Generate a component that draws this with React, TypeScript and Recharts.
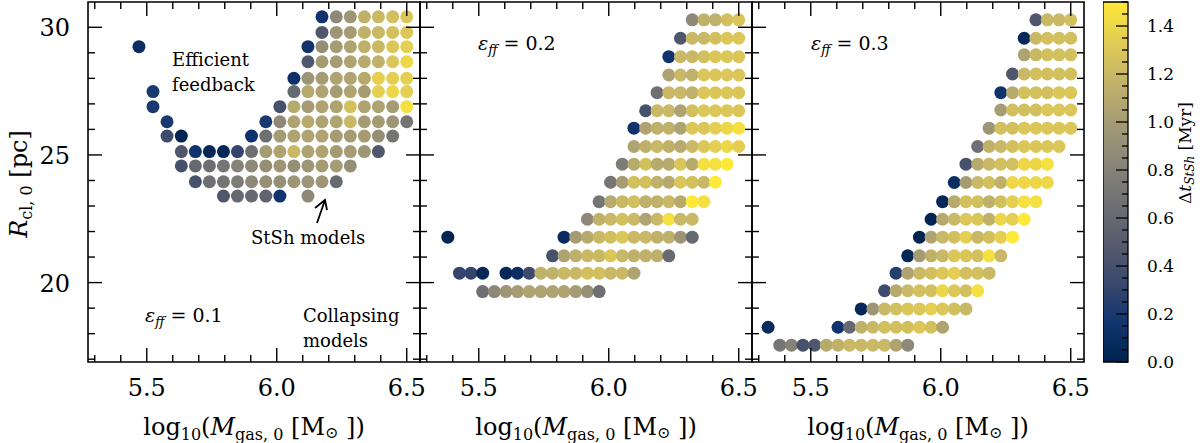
import React from "react";
import { ScatterChart, Scatter, XAxis, YAxis, ReferenceArea, BarChart, Bar } from "recharts";

const FONT = "'DejaVu Serif', serif";

// log10(M_gas,0) grid used in the eps_ff = 0.1 panel
const massGrid1 = [
  5.470, 5.524, 5.578, 5.633, 5.687, 5.741, 5.795, 5.849, 5.903, 5.958,
  6.012, 6.066, 6.120, 6.174, 6.229, 6.283, 6.337, 6.391, 6.446, 6.500,
];
// grid for the eps_ff = 0.2 and 0.3 panels
const massGrid23 = [
  5.336, 5.381, 5.426, 5.470, 5.515, 5.560, 5.605, 5.649, 5.694, 5.739,
  5.784, 5.828, 5.873, 5.918, 5.963, 6.007, 6.052, 6.097, 6.142, 6.186,
  6.231, 6.276, 6.321, 6.366, 6.410, 6.455, 6.500,
];

// [R_cl,0, first grid column, dt_StSh values (Myr)]
type Run = [number, number, number[]];

const runsEff01: Run[] = [
  [30.41, 13, [0.15, 0.85, 0.95, 1.15, 1.2, 1.25, 1.3]],
  [29.8, 13, [0.45, 0.95, 1.0, 1.15, 1.2, 1.25, 1.3]],
  [29.24, 0, [0.1]],
  [29.24, 12, [0.15, 0.9, 1.0, 1.05, 1.15, 1.2, 1.3, 1.35]],
  [28.65, 12, [0.45, 1.0, 1.0, 1.05, 1.1, 1.15, 1.3, 1.4]],
  [28.0, 11, [0.12, 0.95, 1.0, 1.05, 1.05, 1.1, 1.35, 1.35, 1.35]],
  [27.48, 1, [0.2]],
  [27.48, 11, [0.6, 1.1, 1.05, 1.0, 1.05, 1.0, 1.35, 1.4, 1.35]],
  [26.89, 1, [0.2]],
  [26.89, 10, [0.4, 1.1, 1.0, 1.05, 1.05, 1.25, 1.05, 1.05, 1.0, 1.45]],
  [26.3, 2, [0.2]],
  [26.3, 9, [0.2, 0.85, 1.05, 1.1, 1.05, 1.05, 1.2, 1.0, 1.0, 0.95, 0.7]],
  [25.74, 2, [0.35, 0.02]],
  [25.74, 8, [0.15, 0.65, 1.0, 1.05, 1.05, 1.05, 1.0, 1.0, 1.0, 0.9, 0.7]],
  [25.13, 3, [0.45, 0.15, 0.05, 0.05, 0.3, 0.65, 1.0, 1.05, 1.2, 1.05, 1.05, 1.0, 1.0, 0.95, 0.45]],
  [24.57, 3, [0.4, 0.6, 0.65, 0.7, 0.8, 0.85, 0.9, 0.95, 0.9, 0.95, 1.0, 1.0, 0.9]],
  [23.95, 4, [0.4, 0.65, 0.7, 0.75, 0.85, 0.9, 0.9, 0.95, 0.95, 0.95, 0.6]],
  [23.39, 6, [0.45, 0.6, 0.6, 0.55, 0.15]],
  [23.39, 12, [0.85]],
];

const runsEff02: Run[] = [
  [30.29, 22, [0.85, 1.15, 1.15, 1.25, 1.3]],
  [29.57, 21, [0.45, 1.2, 1.2, 1.25, 1.3, 1.3]],
  [28.85, 20, [0.15, 1.2, 1.2, 1.25, 1.3, 1.3, 1.3]],
  [28.13, 20, [1.05, 1.2, 1.15, 1.3, 1.3, 1.3, 1.3]],
  [27.44, 19, [0.65, 1.2, 1.2, 1.15, 1.3, 1.3, 1.3, 1.3]],
  [26.73, 18, [0.4, 1.2, 1.2, 1.05, 1.25, 1.3, 1.3, 1.3, 1.3]],
  [26.05, 17, [0.15, 1.05, 1.15, 1.15, 1.05, 1.3, 1.3, 1.35, 1.4, 1.45]],
  [25.33, 17, [1.05, 1.15, 1.2, 1.15, 1.1, 1.2, 1.3, 1.35, 1.4, 1.35]],
  [24.64, 16, [0.75, 1.1, 1.25, 1.1, 1.1, 1.3, 1.1, 1.45, 1.45, 1.5]],
  [23.93, 15, [0.7, 1.0, 1.25, 1.25, 1.15, 1.1, 1.3, 1.25, 1.2, 1.5]],
  [23.17, 14, [0.7, 1.1, 1.2, 1.25, 1.15, 1.15, 1.2, 1.1, 1.5, 1.45]],
  [22.48, 13, [0.85, 1.15, 1.2, 1.25, 1.2, 1.05, 1.2, 1.45, 1.2, 1.2]],
  [21.78, 1, [0.02]],
  [21.78, 11, [0.08, 1.0, 1.1, 1.2, 1.25, 1.3, 1.2, 1.2, 1.15, 1.15, 0.95, 0.6]],
  [21.05, 10, [0.4, 1.05, 1.15, 1.2, 1.2, 1.3, 1.2, 1.15, 1.15, 1.15, 0.6]],
  [20.37, 2, [0.3, 0.3, 0.05]],
  [20.37, 6, [0.05, 0.1, 0.35, 1.15, 1.15, 1.2, 1.2, 1.25, 1.25, 1.2, 1.2, 1.05]],
  [19.65, 4, [0.65, 0.85, 0.95, 1.0, 1.05, 1.05, 1.05, 1.05, 1.0, 0.9, 0.65]],
];

const runsEff03: Run[] = [
  [30.29, 23, [0.45, 1.2, 1.2, 1.25]],
  [29.57, 22, [0.05, 1.2, 1.25, 1.25, 1.25]],
  [28.92, 22, [1.05, 1.2, 1.25, 1.25, 1.25]],
  [28.17, 21, [0.45, 1.2, 1.25, 1.25, 1.25, 1.25]],
  [27.44, 20, [0.15, 1.1, 1.25, 1.25, 1.25, 1.3, 1.3]],
  [26.76, 20, [1.0, 1.25, 1.25, 1.25, 1.3, 1.3, 1.3]],
  [26.05, 19, [0.95, 1.25, 1.25, 1.3, 1.3, 1.3, 1.3, 1.3]],
  [25.33, 18, [0.65, 1.15, 1.2, 1.25, 1.3, 1.3, 1.3, 1.3]],
  [24.64, 17, [0.4, 1.1, 1.2, 1.25, 1.25, 1.4, 1.4, 1.45]],
  [23.92, 16, [0.1, 1.0, 1.2, 1.25, 1.15, 1.4, 1.4, 1.4, 1.4]],
  [23.17, 15, [0.05, 1.1, 1.25, 1.25, 1.15, 1.25, 1.35, 1.45, 1.45]],
  [22.48, 14, [0.02, 1.1, 1.2, 1.3, 1.3, 1.15, 1.4, 1.35, 1.5]],
  [21.78, 13, [0.02, 1.05, 1.2, 1.25, 1.35, 1.2, 1.25, 1.35, 1.5]],
  [21.05, 12, [0.05, 1.0, 1.15, 1.2, 1.3, 1.3, 1.25, 1.45, 1.2]],
  [20.37, 11, [0.25, 1.05, 1.2, 1.25, 1.3, 1.35, 1.25, 1.25, 1.2]],
  [19.68, 10, [0.35, 1.1, 1.2, 1.25, 1.25, 1.4, 1.3, 1.25, 1.45]],
  [18.97, 8, [0.05, 0.95, 1.2, 1.25, 1.3, 1.3, 1.35, 1.3, 1.25, 1.2]],
  [18.25, 0, [0.08]],
  [18.25, 6, [0.15, 0.6, 1.15, 1.2, 1.25, 1.25, 1.25, 1.3, 1.25, 1.05]],
  [17.55, 1, [0.7, 0.8, 0.4, 0.45, 1.1, 1.15, 1.2, 1.2, 1.2, 1.2, 1.05, 0.85]],
];

const xTicks = [5.3, 5.4, 5.5, 5.6, 5.7, 5.8, 5.9, 6.0, 6.1, 6.2, 6.3, 6.4, 6.5];
const xMajor = [5.5, 6.0, 6.5];
const yTicks = [17, 18, 19, 20, 21, 22, 23, 24, 25, 26, 27, 28, 29, 30];
const yMajor = [20, 25, 30];
const cbTicks = [
  0, 0.05, 0.1, 0.15, 0.2, 0.25, 0.3, 0.35, 0.4, 0.45, 0.5, 0.55, 0.6, 0.65, 0.7, 0.75,
  0.8, 0.85, 0.9, 0.95, 1.0, 1.05, 1.1, 1.15, 1.2, 1.25, 1.3, 1.35, 1.4, 1.45, 1.5,
];
const cbMajor = [0, 0.2, 0.4, 0.6, 0.8, 1.0, 1.2, 1.4];

const CIVIDIS = ["#00224e", "#123570", "#3b496c", "#575d6d", "#707173", "#8a8678", "#a59c74", "#c3b369", "#e1cc55", "#fee838"];
const DT_MAX = 1.5;

const X_DOMAIN: [number, number] = [5.274, 6.551];
const Y_DOMAIN: [number, number] = [16.89, 30.99];
const H = 443;
const PLOT_TOP = 2;
const PLOT_BOTTOM = 362;
const PLOT_W = 332;
const SPARE_R = 24; // room on the right so the "6.5" label is not clipped

const isIn = (v: number, list: number[]) => list.some((m) => Math.abs(m - v) < 1e-6);

function hexToRgb(h: string) {
  return [1, 3, 5].map((i) => parseInt(h.slice(i, i + 2), 16));
}

function cividis(dt: number) {
  const t = Math.max(0, Math.min(1, dt / DT_MAX)) * (CIVIDIS.length - 1);
  const i = Math.min(Math.floor(t), CIVIDIS.length - 2);
  const f = t - i;
  const a = hexToRgb(CIVIDIS[i]);
  const b = hexToRgb(CIVIDIS[i + 1]);
  const c = a.map((v, k) => Math.round(v + (b[k] - v) * f));
  return `rgb(${c[0]},${c[1]},${c[2]})`;
}

function buildPoints(runs: Run[], grid: number[]) {
  const pts: { x: number; y: number; dt: number }[] = [];
  runs.forEach(([r, start, vals]) => {
    vals.forEach((dt, i) => pts.push({ x: grid[start + i], y: r, dt }));
  });
  return pts;
}

function Dot(props: any) {
  const { cx, cy, payload } = props;
  if (cx == null || cy == null) return null;
  return <circle cx={cx} cy={cy} r={6.5} fill={cividis(payload.dt)} />;
}

function XTick(props: any) {
  const { x, payload } = props;
  const major = isIn(payload.value, xMajor);
  const len = major ? 14 : 7;
  return (
    <g>
      <line x1={x} x2={x} y1={PLOT_BOTTOM} y2={PLOT_BOTTOM - len} stroke="#000" strokeWidth={1.4} />
      <line x1={x} x2={x} y1={PLOT_TOP} y2={PLOT_TOP + len} stroke="#000" strokeWidth={1.4} />
      {major && (
        <text x={x} y={396} textAnchor="middle" fontSize={24} fontFamily={FONT} fill="#000">
          {payload.value.toFixed(1)}
        </text>
      )}
    </g>
  );
}

function YTick(props: any) {
  const { y, payload, plotL, plotR, labels } = props;
  const major = isIn(payload.value, yMajor);
  const len = major ? 14 : 7;
  return (
    <g>
      <line x1={plotL} x2={plotL + len} y1={y} y2={y} stroke="#000" strokeWidth={1.4} />
      <line x1={plotR} x2={plotR - len} y1={y} y2={y} stroke="#000" strokeWidth={1.4} />
      {major && labels && (
        <text x={70} y={y + 9} textAnchor="end" fontSize={24} fontFamily={FONT} fill="#000">
          {payload.value}
        </text>
      )}
    </g>
  );
}

function CbTick(props: any) {
  const { y, payload } = props;
  const major = isIn(payload.value, cbMajor);
  const len = major ? 12 : 6;
  return (
    <g>
      <line x1={25} x2={25 - len} y1={y} y2={y} stroke="#000" strokeWidth={1.3} />
      {major && (
        <text x={44} y={y + 6} fontSize={17} fontFamily={FONT} fill="#000">
          {payload.value.toFixed(1)}
        </text>
      )}
    </g>
  );
}

interface PanelProps {
  left: number;
  axisW: number;
  runs: Run[];
  grid: number[];
}

function Panel({ left, axisW, runs, grid }: PanelProps) {
  const plotR = axisW + PLOT_W;
  const points = buildPoints(runs, grid);
  return (
    <div style={{ position: "absolute", left, top: 0 }}>
      <ScatterChart width={plotR + SPARE_R} height={H} margin={{ top: PLOT_TOP, right: SPARE_R, bottom: 0, left: 0 }}>
        <XAxis
          type="number"
          dataKey="x"
          domain={X_DOMAIN}
          allowDataOverflow
          ticks={xTicks}
          interval={0}
          height={H - PLOT_BOTTOM}
          axisLine={false}
          tickLine={false}
          tick={(p: any) => <XTick {...p} />}
        />
        <YAxis
          type="number"
          dataKey="y"
          domain={Y_DOMAIN}
          allowDataOverflow
          ticks={yTicks}
          interval={0}
          width={axisW}
          axisLine={false}
          tickLine={false}
          tick={(p: any) => <YTick {...p} plotL={axisW} plotR={plotR} labels={axisW > 1} />}
        />
        <ReferenceArea
          x1={X_DOMAIN[0]}
          x2={X_DOMAIN[1]}
          y1={Y_DOMAIN[0]}
          y2={Y_DOMAIN[1]}
          fill="none"
          stroke="#000"
          strokeWidth={1.6}
        />
        <Scatter data={points} isAnimationActive={false} shape={Dot} />
      </ScatterChart>
    </div>
  );
}

function Eps({ x, y, val }: { x: number; y: number; val: string }) {
  return (
    <text x={x} y={y} fontSize={19} fontFamily={FONT} fill="#000">
      <tspan fontStyle="italic">ε</tspan>
      <tspan fontStyle="italic" fontSize={13} dy={4}>ff</tspan>
      <tspan dy={-4}>{" = " + val}</tspan>
    </text>
  );
}

function MassLabel({ cx }: { cx: number }) {
  return (
    <text x={cx} y={435} textAnchor="middle" fontSize={24} fontFamily={FONT} fill="#000">
      log
      <tspan fontSize={16} dy={5}>10</tspan>
      <tspan dy={-5}>(</tspan>
      <tspan fontStyle="italic">M</tspan>
      <tspan fontSize={16} dy={5}>{"gas, 0"}</tspan>
      <tspan dy={-5}>{" [M"}</tspan>
      <tspan fontSize={16} dy={3}>⊙</tspan>
      <tspan dy={-3}>{" ])"}</tspan>
    </text>
  );
}

export default function App() {
  return (
    <div style={{ position: "absolute", left: 0, top: 0, width: 1200, height: H, background: "#fff" }}>
      <Panel left={0} axisW={88} runs={runsEff01} grid={massGrid1} />
      <Panel left={419} axisW={1} runs={runsEff02} grid={massGrid23} />
      <Panel left={751} axisW={1} runs={runsEff03} grid={massGrid23} />

      {/* colour bar */}
      <div style={{ position: "absolute", left: 1103, top: 0 }}>
        <BarChart
          width={97}
          height={H}
          data={[{ name: "cb", dt: DT_MAX }]}
          margin={{ top: PLOT_TOP, right: 0, bottom: H - PLOT_BOTTOM, left: 0 }}
          barCategoryGap={0}
        >
          <defs>
            <linearGradient id="cividisGrad" x1="0" y1="1" x2="0" y2="0">
              {CIVIDIS.map((c, i) => (
                <stop key={c} offset={i / (CIVIDIS.length - 1)} stopColor={c} />
              ))}
            </linearGradient>
          </defs>
          <XAxis dataKey="name" hide />
          <YAxis
            orientation="right"
            type="number"
            domain={[0, DT_MAX]}
            ticks={cbTicks}
            interval={0}
            width={72}
            axisLine={false}
            tickLine={false}
            tick={(p: any) => <CbTick {...p} />}
          />
          <Bar dataKey="dt" fill="url(#cividisGrad)" stroke="#000" strokeWidth={1.3} isAnimationActive={false} />
        </BarChart>
      </div>

      {/* annotations and axis titles */}
      <svg width={1200} height={H} style={{ position: "absolute", left: 0, top: 0, pointerEvents: "none" }}>
        <text fontSize={18} fontFamily={FONT} fill="#000">
          <tspan x={172} y={66}>Efficient</tspan>
          <tspan x={172} y={91}>feedback</tspan>
        </text>
        <text fontSize={18} fontFamily={FONT} fill="#000">
          <tspan x={303} y={322}>Collapsing</tspan>
          <tspan x={303} y={347}>models</tspan>
        </text>
        <text x={251} y={244} fontSize={18} fontFamily={FONT} fill="#000">StSh models</text>
        <path d="M317 223 L325 200 M315 208 L325 200 L327 210" fill="none" stroke="#000" strokeWidth={1.8} />
        <Eps x={145} y={322} val="0.1" />
        <Eps x={478} y={50} val="0.2" />
        <Eps x={811} y={50} val="0.3" />

        <MassLabel cx={254} />
        <MassLabel cx={586} />
        <MassLabel cx={918} />

        <text transform="translate(27,184) rotate(-90)" textAnchor="middle" fontSize={24} fontFamily={FONT} fill="#000">
          <tspan fontStyle="italic">R</tspan>
          <tspan fontSize={16} dy={5}>{"cl, 0"}</tspan>
          <tspan dy={-5}>{" [pc]"}</tspan>
        </text>
        <text transform="translate(1191,153) rotate(-90)" textAnchor="middle" fontSize={17} fontFamily={FONT} fill="#000">
          Δ
          <tspan fontStyle="italic">t</tspan>
          <tspan fontSize={12} dy={3} fontStyle="italic">StSh</tspan>
          <tspan dy={-3}>{" [Myr]"}</tspan>
        </text>
      </svg>
    </div>
  );
}
